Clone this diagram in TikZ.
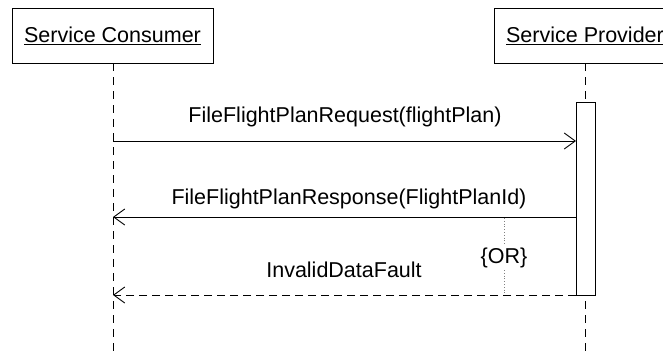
\documentclass[tikz,border=0pt]{standalone}
\usepackage{fontspec}
\setmainfont{Liberation Sans}
\usetikzlibrary{arrows.meta}
\begin{document}
\begin{tikzpicture}[x=1pt,y=-1pt,
  every node/.style={font=\fontsize{21.5}{25}\selectfont},
  objbox/.style={draw, line width=1pt, minimum height=54pt, inner sep=0pt},
  life/.style={line width=1pt, dash pattern=on 8pt off 6pt},
  msg/.style={line width=0.9pt, -{Straight Barb[length=11pt,width=16pt,line width=0.9pt]}},
  retmsg/.style={msg, dash pattern=on 8pt off 5pt},
  act/.style={draw, line width=1pt, fill=white},
  lbl/.style={inner sep=0pt, anchor=base},
  orline/.style={line width=0.8pt, dotted, gray}
]
\useasboundingbox (0,0) rectangle (663,353);
% objects
\node[objbox, minimum width=201pt] (cons) at (112.5,36) {\underline{Service Consumer}};
\node[objbox, minimum width=182pt] (prov) at (585,36) {\underline{Service Provider}};
% lifelines
\coordinate (consend) at (113,360);
\coordinate (provend) at (585,360);
\draw[life] (113,63) -- (consend);
\draw[life] (585,63) -- (provend);
% activation
\node[act, minimum width=19pt, minimum height=193pt, inner sep=0pt] (actv) at (585.5,198.5) {};
% coordinates on lifelines
\coordinate (c1) at (113,141);
\coordinate (c2) at (113,217);
\coordinate (c3) at (113,295);
\coordinate (p1) at (576,141);
\coordinate (p2) at (576,217);
\coordinate (p3) at (576,295);
% messages
\draw[msg] (c1) -- (p1);
\node[lbl] (l1) at (345,122) {FileFlightPlanRequest(flightPlan)};
\draw[msg] (p2) -- (c2);
\node[lbl] (l2) at (349,204) {FileFlightPlanResponse(FlightPlanId)};
\draw[retmsg] (p3) -- (c3);
\node[lbl] (l3) at (344,277) {InvalidDataFault};
% OR
\node[lbl] (or) at (504,263) {\{OR\}};
\coordinate (o1) at (504,218);
\coordinate (o2) at (504,245);
\coordinate (o3) at (504,270);
\coordinate (o4) at (504,294);
\draw[orline] (o1) -- (o2);
\draw[orline] (o3) -- (o4);
\end{tikzpicture}
\end{document}
